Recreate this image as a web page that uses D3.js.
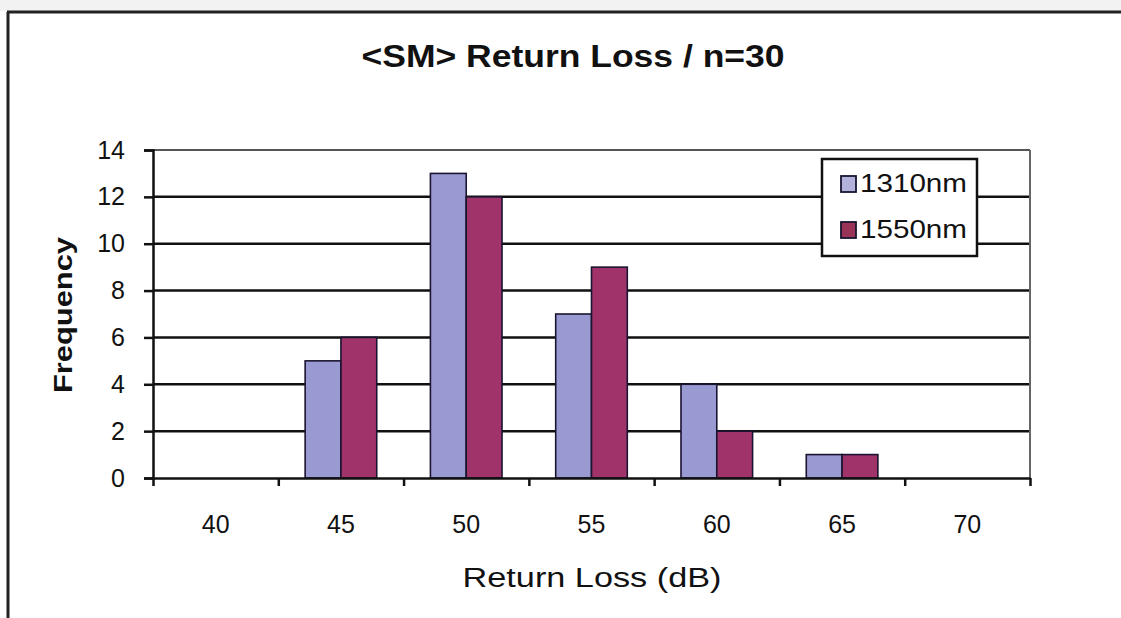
<!DOCTYPE html>
<html>
<head>
<meta charset="utf-8">
<script src="https://cdn.jsdelivr.net/npm/d3@7"></script>
<style>
    body { margin: 0; background: #ffffff; }
    svg { display: block; font-family: "Liberation Sans", Arial, sans-serif; }
    .tick text { fill: #111; font-family: "Liberation Sans", Arial, sans-serif; }
</style>
</head>
<body>
<script>
// <SM> Return Loss histogram, two wavelengths

// chart data
var categories = ["40", "45", "50", "55", "60", "65", "70"];
var seriesNames = ["1310nm", "1550nm"];
var values1310 = [0, 5, 13, 7, 4, 1, 0];
var values1550 = [0, 6, 12, 9, 2, 1, 0];
var yTicks = [0, 2, 4, 6, 8, 10, 12, 14];

var colors = { "1310nm": "#9a9ad2", "1550nm": "#a0336a" };

var w = 1121,
    h = 618;

var plotLeft = 153, plotRight = 1030, plotTop = 150, plotBottom = 478;

var svg = d3.select("body")
    .append("svg")
    .attr("width", w)
    .attr("height", h);

// light strip above the frame
svg.append("rect")
    .attr("x", 0).attr("y", 0)
    .attr("width", w).attr("height", 11)
    .style("fill", "#f2f2f2");

// outer frame (only top and left show)
svg.append("line")
    .attr("x1", 7).attr("x2", w)
    .attr("y1", 12).attr("y2", 12)
    .style("stroke", "#222").style("stroke-width", 3);
svg.append("line")
    .attr("x1", 8).attr("x2", 8)
    .attr("y1", 12).attr("y2", h)
    .style("stroke", "#222").style("stroke-width", 3);

// scales
var x0 = d3.scaleBand()
    .domain(categories)
    .range([plotLeft, plotRight])
    .paddingInner(0)
    .paddingOuter(0);

var x1 = d3.scaleBand()
    .domain(seriesNames)
    .range([0, x0.bandwidth()])
    .paddingInner(0)
    .paddingOuter(0.75);

var xb = d3.scaleLinear()
    .domain([0, categories.length])
    .range([plotLeft, plotRight]);

var y = d3.scaleLinear()
    .domain([0, 14])
    .range([plotBottom, plotTop]);

// gridlines
svg.append("g")
    .selectAll("line")
    .data(yTicks.filter(function(d){ return d > 0; }))
    .enter()
    .append("line")
    .attr("x1", plotLeft).attr("x2", plotRight)
    .attr("y1", function(d){ return y(d); })
    .attr("y2", function(d){ return y(d); })
    .style("stroke", function(d){ return d === 14 ? "#555" : "#111"; })
    .style("stroke-width", function(d){ return d === 14 ? 2 : 2.5; });

// right border of the plot
svg.append("line")
    .attr("x1", plotRight).attr("x2", plotRight)
    .attr("y1", plotTop).attr("y2", plotBottom)
    .style("stroke", "#666").style("stroke-width", 2);

// bars
var rows = categories.map(function(c, i){
    return { cat: c, vals: [
        { name: "1310nm", v: values1310[i] },
        { name: "1550nm", v: values1550[i] }
    ]};
});

var groups = svg.append("g")
    .selectAll("g")
    .data(rows)
    .enter()
    .append("g")
    .attr("transform", function(d){ return "translate(" + x0(d.cat) + ",0)"; });

groups.selectAll("rect")
    .data(function(d){ return d.vals.filter(function(e){ return e.v > 0; }); })
    .enter()
    .append("rect")
    .attr("x", function(d){ return x1(d.name); })
    .attr("y", function(d){ return y(d.v); })
    .attr("width", x1.bandwidth())
    .attr("height", function(d){ return y(0) - y(d.v); })
    .style("fill", function(d){ return colors[d.name]; })
    .style("stroke", "#1a1430")
    .style("stroke-width", 1.6);

// y axis
var yAxis = d3.axisLeft(y)
    .tickValues(yTicks)
    .tickSize(9)
    .tickPadding(19);

var gy = svg.append("g")
    .attr("transform", "translate(" + plotLeft + ",0)")
    .call(yAxis);
gy.select(".domain").style("stroke", "#111").style("stroke-width", 2.5);
gy.selectAll(".tick line").style("stroke", "#111").style("stroke-width", 2.5);
gy.selectAll(".tick text").style("font-size", "25px");

// x axis: boundary ticks
var gxb = svg.append("g")
    .attr("transform", "translate(0," + plotBottom + ")")
    .call(d3.axisBottom(xb)
        .tickValues(d3.range(categories.length + 1))
        .tickFormat("")
        .tickSize(8)
        .tickSizeOuter(0));
gxb.select(".domain").style("stroke", "#111").style("stroke-width", 2.5);
gxb.selectAll(".tick line").style("stroke", "#111").style("stroke-width", 2.5);

// x axis: category labels
var gx = svg.append("g")
    .attr("transform", "translate(0," + plotBottom + ")")
    .call(d3.axisBottom(x0).tickSize(0).tickPadding(37));
gx.select(".domain").remove();
gx.selectAll(".tick text").style("font-size", "25px");

// title
svg.append("text")
    .attr("x", 573)
    .attr("y", 67)
    .attr("text-anchor", "middle")
    .attr("textLength", 423)
    .attr("lengthAdjust", "spacingAndGlyphs")
    .style("font-size", "32px")
    .style("font-weight", "bold")
    .style("fill", "#111")
    .text("<SM> Return Loss / n=30");

// axis titles
svg.append("text")
    .attr("x", 592)
    .attr("y", 587)
    .attr("text-anchor", "middle")
    .attr("textLength", 259)
    .attr("lengthAdjust", "spacingAndGlyphs")
    .style("font-size", "27px")
    .style("fill", "#111")
    .text("Return Loss (dB)");

svg.append("text")
    .attr("transform", "translate(72,315) rotate(-90)")
    .attr("text-anchor", "middle")
    .attr("textLength", 156)
    .attr("lengthAdjust", "spacingAndGlyphs")
    .style("font-size", "26px")
    .style("font-weight", "bold")
    .style("fill", "#111")
    .text("Frequency");

// legend
var legend = svg.append("g");
legend.append("rect")
    .attr("x", 822).attr("y", 159)
    .attr("width", 155).attr("height", 97)
    .style("fill", "#fff")
    .style("stroke", "#111")
    .style("stroke-width", 2.5);

var items = legend.selectAll(".item")
    .data(seriesNames)
    .enter()
    .append("g")
    .attr("class", "item")
    .attr("transform", function(d, i){ return "translate(0," + (i * 46) + ")"; });

items.append("rect")
    .attr("x", 841).attr("y", 176)
    .attr("width", 15).attr("height", 16)
    .style("fill", function(d){ return d === "1310nm" ? "#b2b2dc" : "#9a3358"; })
    .style("stroke", "#1a1430")
    .style("stroke-width", 1.8);

items.append("text")
    .attr("x", 860).attr("y", 192)
    .attr("textLength", 107)
    .attr("lengthAdjust", "spacingAndGlyphs")
    .style("font-size", "25px")
    .style("fill", "#111")
    .text(function(d){ return d; });
</script>
</body>
</html>
